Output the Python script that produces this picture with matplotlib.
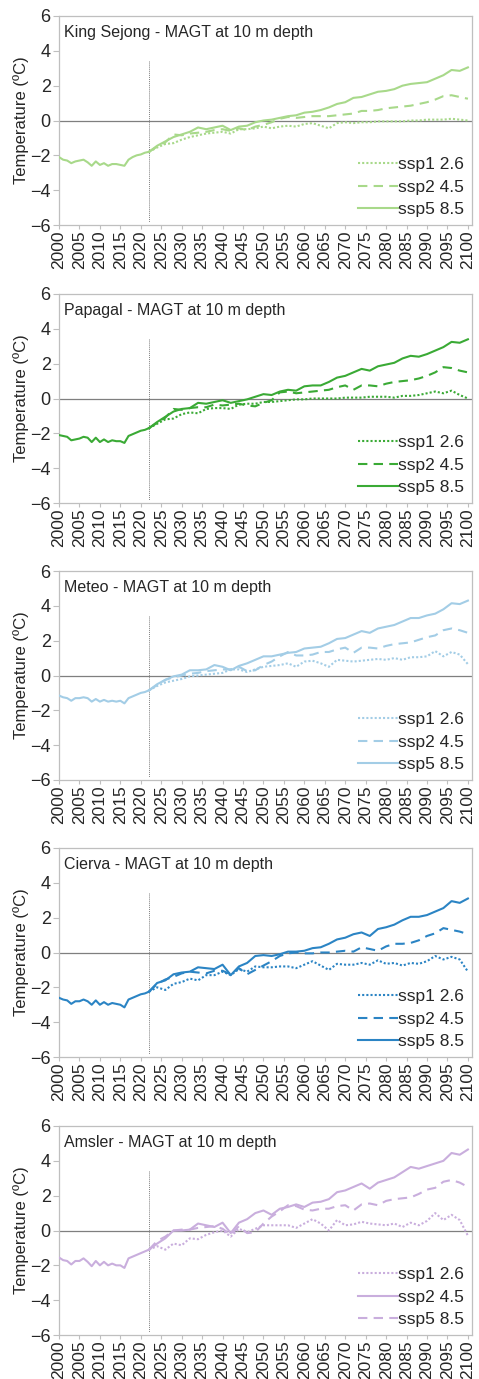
import numpy as np
import matplotlib
matplotlib.use("Agg")
import matplotlib.pyplot as plt

plt.rcParams['font.family'] = ['Liberation Sans', 'DejaVu Sans']

# years
hist_years = list(range(2000, 2023))
proj_years = list(range(2022, 2101, 2))

# ---- King Sejong ----
ks_hist = [-2.1, -2.25, -2.3, -2.45, -2.35, -2.3, -2.25, -2.4, -2.6, -2.35, -2.55, -2.45,
           -2.6, -2.5, -2.5, -2.55, -2.6, -2.25, -2.1, -2.0, -1.95, -1.85, -1.8]
ks_ssp1 = [-1.8, -1.55, -1.35, -1.3, -1.1, -0.95, -0.85, -0.75, -0.7, -0.65, -0.75, -0.5, -0.5, -0.45,
           -0.35, -0.45, -0.35, -0.3, -0.35, -0.2, -0.15, -0.3, -0.45, -0.15, -0.1, -0.15, -0.1, -0.1,
           -0.05, -0.05, -0.05, -0.05, 0.0, 0.0, 0.05, 0.05, 0.05, 0.1, 0.05, 0.0]
ks_ssp2 = [-1.8, -1.5, -1.25, -0.8, -0.85, -0.75, -0.7, -0.65, -0.55, -0.5, -0.6, -0.45, -0.55, -0.35,
           -0.25, -0.1, 0.1, 0.2, 0.15, 0.2, 0.25, 0.25, 0.25, 0.3, 0.35, 0.4, 0.55, 0.55, 0.6, 0.7,
           0.75, 0.8, 0.85, 0.95, 1.05, 1.2, 1.4, 1.45, 1.35, 1.25]
ks_ssp5 = [-1.8, -1.45, -1.2, -0.95, -0.8, -0.65, -0.4, -0.5, -0.4, -0.3, -0.55, -0.35, -0.3, -0.1,
           0.0, 0.05, 0.15, 0.25, 0.3, 0.45, 0.5, 0.6, 0.75, 0.95, 1.05, 1.3, 1.35, 1.5, 1.65, 1.7,
           1.8, 2.0, 2.1, 2.15, 2.2, 2.4, 2.6, 2.9, 2.85, 3.05]

# ---- Papagal ----
pa_hist = [-2.1, -2.15, -2.2, -2.4, -2.35, -2.3, -2.2, -2.25, -2.5, -2.25, -2.5, -2.35,
           -2.5, -2.4, -2.45, -2.45, -2.55, -2.15, -2.05, -1.95, -1.85, -1.8, -1.7]
pa_ssp1 = [-1.7, -1.45, -1.2, -1.15, -0.9, -0.8, -0.85, -0.6, -0.55, -0.55, -0.6, -0.35, -0.3, -0.3,
           -0.2, -0.2, -0.15, -0.1, -0.05, -0.05, 0.0, 0.0, 0.0, 0.0, 0.05, 0.05, 0.05, 0.1, 0.1, 0.1,
           0.05, 0.15, 0.15, 0.2, 0.3, 0.4, 0.3, 0.45, 0.2, 0.0]
pa_ssp2 = [-1.7, -1.4, -1.1, -0.6, -0.65, -0.55, -0.5, -0.5, -0.35, -0.4, -0.35, -0.3, -0.4, -0.45,
           -0.25, -0.1, 0.35, 0.4, 0.3, 0.35, 0.4, 0.45, 0.5, 0.65, 0.75, 0.5, 0.75, 0.75, 0.7, 0.85,
           0.95, 1.0, 1.05, 1.15, 1.3, 1.5, 1.8, 1.75, 1.6, 1.5]
pa_ssp5 = [-1.7, -1.35, -1.05, -0.75, -0.6, -0.55, -0.25, -0.3, -0.2, -0.1, -0.25, -0.15, -0.05, 0.1,
           0.25, 0.2, 0.4, 0.5, 0.45, 0.7, 0.75, 0.75, 0.95, 1.2, 1.3, 1.5, 1.7, 1.6, 1.85, 1.95,
           2.05, 2.3, 2.45, 2.4, 2.55, 2.75, 2.95, 3.25, 3.2, 3.4]

# ---- Meteo ----
me_hist = [-1.15, -1.25, -1.3, -1.45, -1.3, -1.3, -1.25, -1.3, -1.5, -1.35, -1.5, -1.4,
           -1.5, -1.45, -1.5, -1.45, -1.6, -1.3, -1.2, -1.1, -1.0, -0.95, -0.85]
me_ssp1 = [-0.85, -0.6, -0.4, -0.3, -0.2, -0.05, 0.0, 0.05, 0.1, 0.15, 0.35, 0.35, 0.2, 0.35,
           0.5, 0.55, 0.6, 0.7, 0.5, 0.8, 0.85, 0.7, 0.5, 0.9, 0.85, 0.8, 0.85, 0.9, 0.95, 0.9,
           1.0, 0.9, 1.05, 1.05, 1.1, 1.4, 1.1, 1.35, 1.2, 0.65]
me_ssp2 = [-0.85, -0.55, -0.25, -0.1, 0.0, 0.1, 0.15, 0.25, 0.3, 0.35, 0.35, 0.5, 0.25, 0.3,
           0.6, 0.8, 1.1, 1.35, 1.15, 1.15, 1.2, 1.35, 1.35, 1.5, 1.6, 1.3, 1.6, 1.6, 1.55, 1.7,
           1.8, 1.85, 1.9, 2.05, 2.2, 2.3, 2.6, 2.7, 2.6, 2.45]
me_ssp5 = [-0.85, -0.5, -0.25, -0.05, 0.05, 0.3, 0.3, 0.35, 0.6, 0.5, 0.3, 0.55, 0.7, 0.9,
           1.1, 1.1, 1.2, 1.3, 1.35, 1.55, 1.6, 1.65, 1.85, 2.1, 2.15, 2.35, 2.55, 2.45, 2.7, 2.8,
           2.9, 3.1, 3.3, 3.3, 3.45, 3.55, 3.8, 4.15, 4.1, 4.3]

# ---- Cierva ----
ci_hist = [-2.6, -2.7, -2.75, -2.95, -2.8, -2.8, -2.7, -2.8, -3.0, -2.75, -3.0, -2.85,
           -3.0, -2.9, -2.95, -3.0, -3.15, -2.7, -2.6, -2.5, -2.4, -2.35, -2.25]
ci_ssp1 = [-2.25, -2.0, -2.15, -1.8, -1.7, -1.5, -1.6, -1.3, -1.3, -1.1, -1.3, -0.95, -1.1, -0.8,
           -0.85, -0.85, -0.8, -0.8, -0.9, -0.7, -0.5, -0.75, -1.0, -0.65, -0.7, -0.7, -0.6, -0.7,
           -0.45, -0.65, -0.6, -0.75, -0.6, -0.65, -0.5, -0.2, -0.4, -0.25, -0.4, -1.1]
ci_ssp2 = [-2.25, -1.8, -1.55, -1.4, -1.2, -1.1, -1.15, -1.2, -1.05, -1.05, -1.25, -0.9, -1.25, -1.0,
           -0.75, -0.5, -0.2, -0.05, 0.0, -0.05, -0.05, 0.0, 0.0, 0.05, 0.1, 0.05, 0.3, 0.2, 0.1, 0.35,
           0.5, 0.5, 0.55, 0.7, 0.95, 1.1, 1.4, 1.3, 1.2, 1.05]
ci_ssp5 = [-2.25, -1.75, -1.6, -1.25, -1.15, -1.1, -0.85, -0.9, -0.95, -0.7, -1.3, -0.8, -0.6, -0.2,
           -0.15, -0.2, -0.1, 0.05, 0.05, 0.1, 0.25, 0.3, 0.5, 0.75, 0.85, 1.05, 1.15, 0.95, 1.35, 1.45,
           1.6, 1.85, 2.05, 2.05, 2.15, 2.35, 2.55, 2.95, 2.85, 3.1]

# ---- Amsler ----
am_hist = [-1.55, -1.7, -1.75, -1.95, -1.75, -1.75, -1.6, -1.8, -2.05, -1.75, -2.0, -1.8,
           -2.0, -1.9, -2.0, -2.0, -2.15, -1.6, -1.5, -1.4, -1.3, -1.2, -1.1]
am_ssp1 = [-1.1, -0.9, -1.1, -0.75, -0.85, -0.45, -0.5, -0.25, -0.1, 0.0, -0.35, 0.1, -0.1, 0.1,
           0.3, 0.3, 0.3, 0.3, 0.15, 0.4, 0.65, 0.4, 0.0, 0.6, 0.3, 0.35, 0.5, 0.4, 0.35, 0.3,
           0.4, 0.2, 0.45, 0.3, 0.55, 1.0, 0.6, 0.9, 0.6, -0.3]
am_ssp2 = [-1.1, -0.75, -0.45, 0.0, 0.0, 0.05, 0.4, 0.3, 0.2, 0.45, -0.15, 0.45, 0.65, 1.0,
           1.15, 0.9, 1.25, 1.35, 1.5, 1.35, 1.6, 1.65, 1.8, 2.2, 2.3, 2.5, 2.7, 2.4, 2.75, 2.9,
           3.05, 3.35, 3.65, 3.55, 3.7, 3.85, 4.0, 4.45, 4.35, 4.65]
am_ssp5 = [-1.1, -0.6, -0.35, 0.0, 0.05, 0.05, 0.15, 0.2, 0.25, 0.1, -0.25, 0.25, -0.15, -0.1,
           0.4, 0.8, 1.1, 1.45, 1.4, 1.2, 1.15, 1.25, 1.25, 1.4, 1.45, 1.15, 1.5, 1.55, 1.45, 1.7,
           1.8, 1.85, 1.9, 2.1, 2.35, 2.45, 2.8, 2.9, 2.75, 2.5]

labels = ["ssp1 2.6", "ssp2 4.5", "ssp5 8.5"]
panels = [
    ("King Sejong", "#a8d98a", ks_hist, ks_ssp1, ks_ssp2, ks_ssp5, ["dot", "dash", "solid"]),
    ("Papagal", "#3aaa35", pa_hist, pa_ssp1, pa_ssp2, pa_ssp5, ["dot", "dash", "solid"]),
    ("Meteo", "#a3cde6", me_hist, me_ssp1, me_ssp2, me_ssp5, ["dot", "dash", "solid"]),
    ("Cierva", "#2b84c4", ci_hist, ci_ssp1, ci_ssp2, ci_ssp5, ["dot", "dash", "solid"]),
    # in the Amsler panel the solid line is labelled ssp2 and the dashed one ssp5
    ("Amsler", "#c9aedd", am_hist, am_ssp1, am_ssp2, am_ssp5, ["dot", "solid", "dash"]),
]

styles = {"dot": (0, (1, 1)), "dash": (0, (4.5, 3)), "solid": "-"}

W, H = 479, 1379
fig = plt.figure(figsize=(W / 100, H / 100), dpi=100)
tops = [16, 294, 571, 848, 1126]
ax_h = 209
ax_l, ax_w = 59, 413

for top, (name, col, hist, s1, s2, s5, ls) in zip(tops, panels):
    ax = fig.add_axes([ax_l / W, 1 - (top + ax_h) / H, ax_w / W, ax_h / H])
    ax.axhline(0, color="#7f7f7f", lw=0.9, zorder=1)
    ax.plot([2022, 2022], [3.4, -5.8], color="#808080", lw=0.7, ls=(0, (1, 1)), zorder=1)
    ax.plot(hist_years, hist, color=col, lw=1.5, zorder=3)
    handles = []
    for vals, lab, st in zip([s1, s2, s5], labels, ls):
        h, = ax.plot(proj_years, vals, color=col, lw=1.5, ls=styles[st], label=lab, zorder=2)
        handles.append(h)
    ax.set_xlim(2000, 2101)
    ax.set_ylim(-6, 6)
    ax.set_yticks(range(-6, 7, 2))
    ax.set_xticks(range(2000, 2101, 5))
    ax.set_xticklabels([str(y) for y in range(2000, 2101, 5)], rotation=90)
    ax.tick_params(axis="y", labelsize=13, colors="#bfbfbf", labelcolor="#262626",
                   length=4, width=0.8, pad=2)
    ax.tick_params(axis="x", labelsize=12.5, colors="#bfbfbf", labelcolor="#262626",
                   length=3, width=0.8, pad=1)
    for sp in ax.spines.values():
        sp.set_color("#bfbfbf")
        sp.set_linewidth(0.9)
    ax.set_ylabel("Temperature (ºC)", fontsize=12, color="#262626", labelpad=1)
    ax.text(0.012, 0.955, f"{name} - MAGT at 10 m depth", transform=ax.transAxes,
            ha="left", va="top", fontsize=11.5, color="#262626")
    leg = ax.legend(handles=handles, loc="lower right", frameon=False, fontsize=12.5,
                    handlelength=2.3, handletextpad=0.0, labelspacing=0.42,
                    borderaxespad=0.05)
    for t in leg.get_texts():
        t.set_color("#262626")

fig.savefig("out.png", dpi=100)
